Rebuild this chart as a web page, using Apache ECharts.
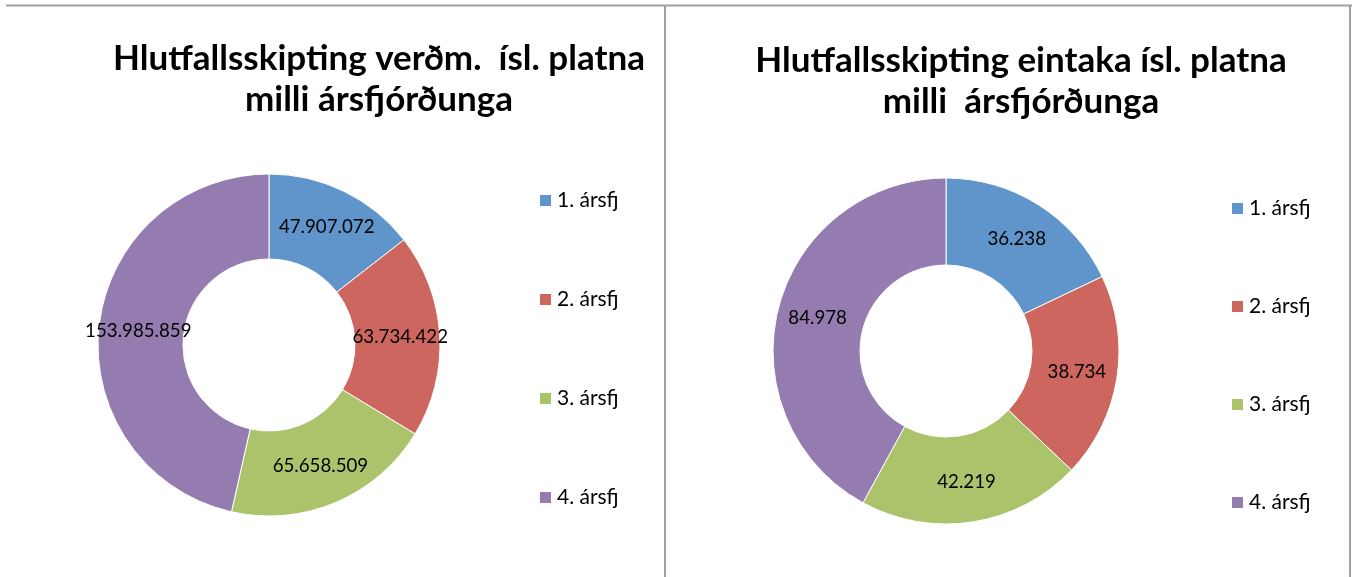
<!DOCTYPE html>
<html>
<head>
<meta charset="utf-8">
<script src="https://cdn.jsdelivr.net/npm/echarts@6/dist/echarts.min.js"></script>
<style>
  html, body { margin: 0; padding: 0; background: #fff; }
  #main { width: 1352px; height: 577px; }
</style>
</head>
<body>
<div id="main"></div>
<script>
var quarters = ['1. ársfj', '2. ársfj', '3. ársfj', '4. ársfj'];
var valueData = [47907072, 63734422, 65658509, 153985859];
var copiesData = [36238, 38734, 42219, 84978];
var colors = ['#6095cb', '#cd665f', '#abc46c', '#947cb0'];

// tölur með punkti sem þúsundaskil
function dotFormat(n) {
  return String(n).replace(/\B(?=(\d{3})+(?!\d))/g, '.');
}

function toItems(vals) {
  return quarters.map(function (q, i) { return { name: q, value: vals[i] }; });
}

var fontName = 'Lato';
var myChart = echarts.init(document.getElementById('main'));
var option = {
  color: colors,
  animation: false,
  title: [
    {
      text: 'Hlutfallsskipting verðm.  ísl. platna\nmilli ársfjórðunga',
      left: 374, top: 33, textAlign: 'center',
      textStyle: { fontFamily: fontName, fontWeight: 'bold', fontSize: 35, lineHeight: 41, color: '#000' }
    },
    {
      text: 'Hlutfallsskipting eintaka ísl. platna\nmilli  ársfjórðunga',
      left: 1016, top: 35, textAlign: 'center',
      textStyle: { fontFamily: fontName, fontWeight: 'bold', fontSize: 35, lineHeight: 41, color: '#000' }
    }
  ],
  legend: [
    {
      orient: 'vertical', left: 538, top: 190, itemGap: 78, padding: 0,
      itemWidth: 13, itemHeight: 13, itemTextGap: 6, icon: 'rect', data: quarters,
      textStyle: { fontFamily: fontName, fontSize: 21, color: '#000' }
    },
    {
      orient: 'vertical', left: 1230, top: 198, itemGap: 77, padding: 0,
      itemWidth: 13, itemHeight: 13, itemTextGap: 6, icon: 'rect', data: quarters,
      textStyle: { fontFamily: fontName, fontSize: 21, color: '#000' }
    }
  ],
  graphic: [
    { type: 'line', shape: { x1: 6, y1: 5.5, x2: 1352, y2: 5.5 }, style: { stroke: '#a0a0a0', lineWidth: 2 } },
    { type: 'line', shape: { x1: 665, y1: 5, x2: 665, y2: 577 }, style: { stroke: '#a0a0a0', lineWidth: 2 } },
    { type: 'line', shape: { x1: 1350, y1: 5, x2: 1350, y2: 577 }, style: { stroke: '#a0a0a0', lineWidth: 2 } }
  ],
  series: [
    {
      type: 'pie', center: [269, 345], radius: [86, 171],
      startAngle: 90, clockwise: true, avoidLabelOverlap: false,
      itemStyle: { borderColor: '#fff', borderWidth: 1 },
      label: {
        show: true, position: 'inside', color: '#000',
        fontFamily: fontName, fontSize: 18.7,
        formatter: function (p) { return dotFormat(p.value); }
      },
      labelLine: { show: false },
      emphasis: { disabled: true },
      data: toItems(valueData)
    },
    {
      type: 'pie', center: [946, 351], radius: [86, 173],
      startAngle: 90, clockwise: true, avoidLabelOverlap: false,
      itemStyle: { borderColor: '#fff', borderWidth: 1 },
      label: {
        show: true, position: 'inside', color: '#000',
        fontFamily: fontName, fontSize: 18.7,
        formatter: function (p) { return dotFormat(p.value); }
      },
      labelLine: { show: false },
      emphasis: { disabled: true },
      data: toItems(copiesData)
    }
  ]
};
myChart.setOption(option);
</script>
</body>
</html>
